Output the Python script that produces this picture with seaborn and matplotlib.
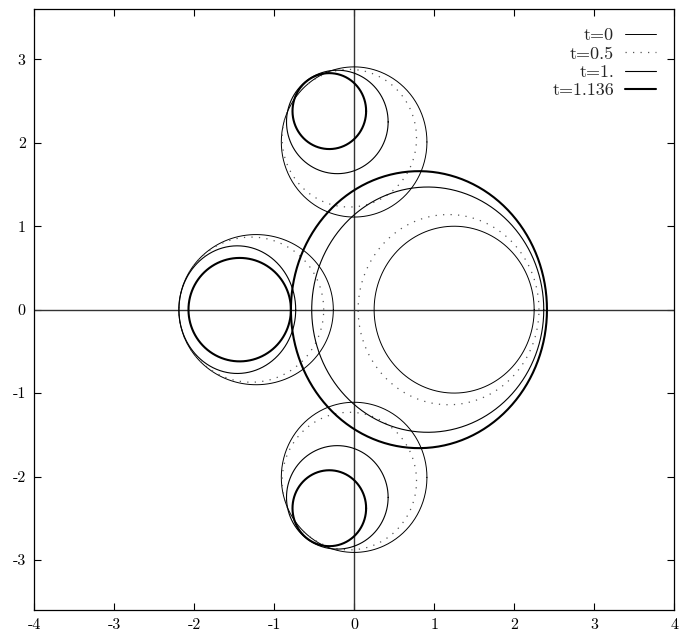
import numpy as np
import pandas as pd
import seaborn as sns
import matplotlib
matplotlib.use("Agg")
import matplotlib.pyplot as plt

# Curve labels (times) and the fitted shape of each boundary component.
times = ["0", "0.5", "1.", "1.136"]

# component on the positive real axis
right_cx = [1.25, 1.18, 0.92, 0.81]
right_rx = [1.00, 1.13, 1.45, 1.60]
right_ry = [1.00, 1.14, 1.47, 1.66]

# component on the negative real axis
left_cx = [-1.225, -1.285, -1.46, -1.43]
left_rx = [0.965, 0.905, 0.73, 0.64]
left_ry = [0.90, 0.87, 0.765, 0.62]

# upper component (the lower one is its mirror image)
top_cx = [0.0, -0.06, -0.21, -0.31]
top_cy = [2.01, 2.055, 2.25, 2.38]
top_rx = [0.91, 0.84, 0.635, 0.46]
top_ry = [0.90, 0.825, 0.62, 0.455]

x_ticks = [-4, -3, -2, -1, 0, 1, 2, 3, 4]
y_ticks = [-3, -2, -1, 0, 1, 2, 3]

styles = [
    dict(color="black", linewidth=0.7, linestyle="-"),
    dict(color="#555555", linewidth=0.9, linestyle=(0, (1, 5))),
    dict(color="black", linewidth=0.8, linestyle="-"),
    dict(color="black", linewidth=1.5, linestyle="-"),
]

sns.set_style("ticks")
plt.rcParams["font.family"] = ["cmr10", "DejaVu Serif"]
plt.rcParams["axes.unicode_minus"] = False
plt.rcParams["mathtext.fontset"] = "cm"

fig = plt.figure(figsize=(6.81, 6.38), dpi=100)
ax = fig.add_axes([0.050, 0.0439, 0.940, 0.9415])

theta = np.linspace(0, 2 * np.pi, 400)

def ellipse_frame(cx, cy, rx, ry):
    return pd.DataFrame({"x": cx + rx * np.cos(theta), "y": cy + ry * np.sin(theta)})

# zero axes
ax.axhline(0, color="#333333", linewidth=1.0, zorder=1)
ax.axvline(0, color="#333333", linewidth=1.0, zorder=1)

for i, t in enumerate(times):
    comps = [
        (right_cx[i], 0.0, right_rx[i], right_ry[i]),
        (left_cx[i], 0.0, left_rx[i], left_ry[i]),
        (top_cx[i], top_cy[i], top_rx[i], top_ry[i]),
        (top_cx[i], -top_cy[i], top_rx[i], top_ry[i]),
    ]
    for j, (cx, cy, rx, ry) in enumerate(comps):
        df = ellipse_frame(cx, cy, rx, ry)
        sns.lineplot(data=df, x="x", y="y", sort=False, estimator=None,
                     ax=ax, label=("t=" + t) if j == 0 else None,
                     zorder=2, **styles[i])

ax.set_xlim(-4, 4)
ax.set_ylim(-3.6, 3.6)
ax.set_xticks(x_ticks)
ax.set_xticklabels([str(v) for v in x_ticks])
ax.set_yticks(y_ticks)
ax.set_yticklabels([str(v) for v in y_ticks])
ax.set_xlabel("")
ax.set_ylabel("")
ax.tick_params(direction="in", top=True, right=True, length=5, width=0.8,
               labelsize=11.5, pad=6, colors="black")
for sp in ax.spines.values():
    sp.set_linewidth(0.9)
    sp.set_color("black")
    sp.set_visible(True)

leg = ax.legend(loc="upper right", frameon=False, markerfirst=False,
                fontsize=13, handlelength=1.7, handletextpad=0.6,
                labelspacing=0.15, borderaxespad=0.62)

fig.savefig("out.png", dpi=100)
